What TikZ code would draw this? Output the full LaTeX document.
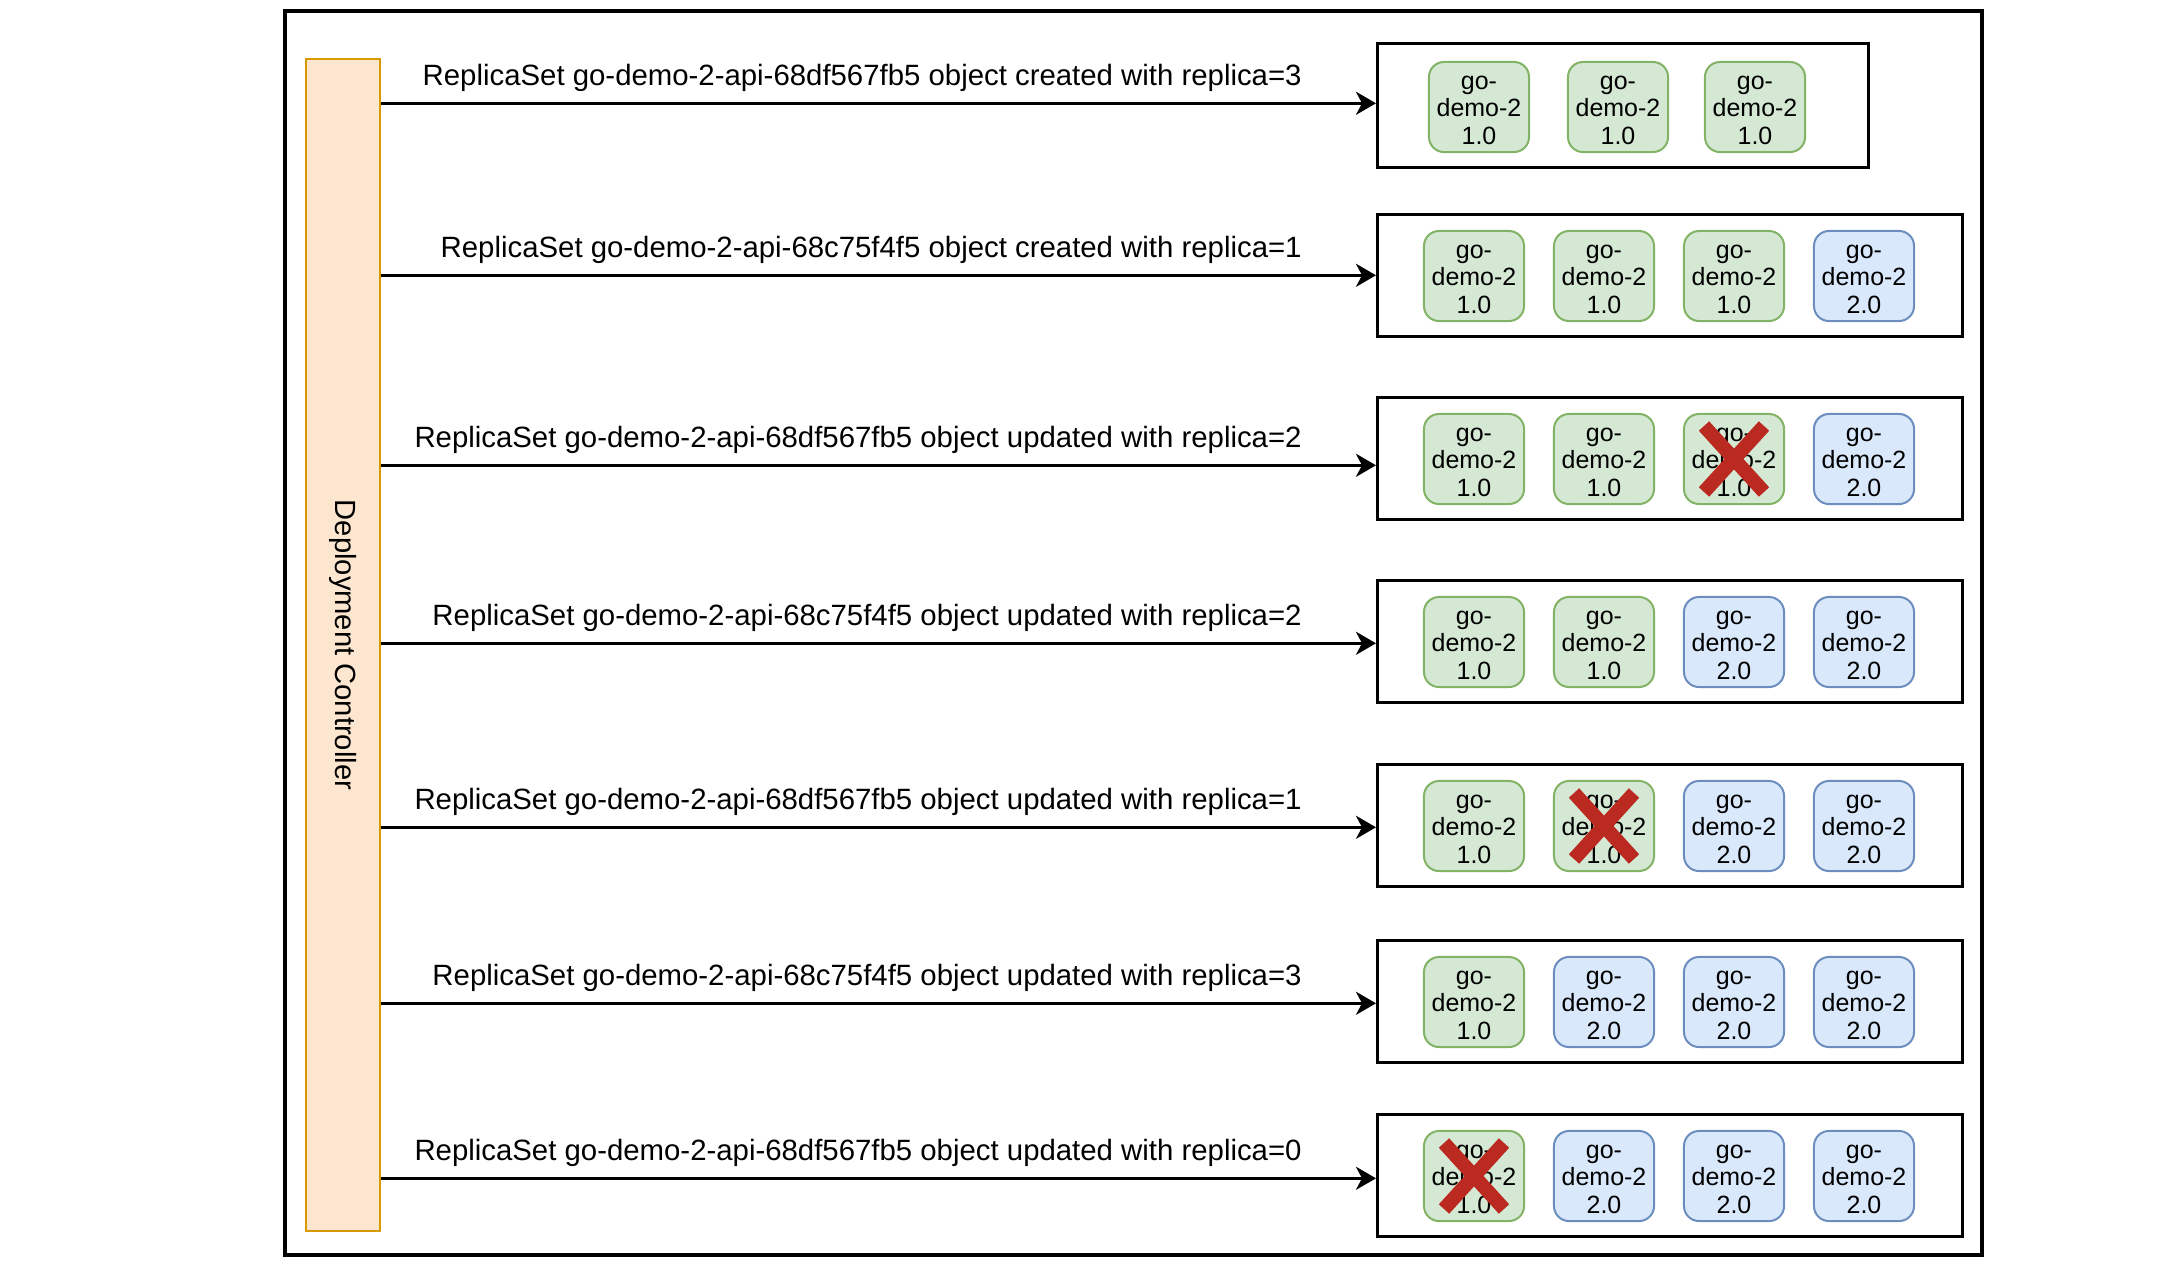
\documentclass[tikz,border=0pt]{standalone}
\usepackage{fontspec}
\setmainfont{Liberation Sans}
\usetikzlibrary{arrows.meta}
\usetikzlibrary{positioning,calc}

\definecolor{oldfill}{HTML}{D5E8D4}
\definecolor{oldline}{HTML}{82B366}
\definecolor{newfill}{HTML}{DAE8FC}
\definecolor{newline}{HTML}{6C8EBF}
\definecolor{ctrlfill}{HTML}{FCE6CF}
\definecolor{ctrlline}{HTML}{D79B00}
\definecolor{killred}{HTML}{BA2A20}

\tikzset{
  pod/.style={draw, rounded corners=0.15cm, line width=0.02cm, minimum width=1cm, minimum height=0.9cm,
    inner sep=0pt, align=center, font=\fontsize{7.1}{7.9}\selectfont},
  old/.style={pod, fill=oldfill, draw=oldline},
  new/.style={pod, fill=newfill, draw=newline},
  rsbox/.style={draw, line width=0.025cm, inner sep=0pt, anchor=north west, minimum height=1.22cm},
  msg/.style={anchor=base east, xshift=-0.73cm, yshift=0.18cm, inner sep=0pt, font=\fontsize{8.35}{10}\selectfont},
  kill/.style={draw=killred, line width=0.14cm},
}

\begin{document}
\begin{tikzpicture}[x=0.01cm, y=-0.01cm, >={Stealth[length=0.2cm,width=0.23cm,inset=0.06cm]}]
			\useasboundingbox (0,0) rectangle (2184,1266);
			\draw[line width=0.04cm] (285,11) rectangle (1982,1255);
			\node[draw=ctrlline, fill=ctrlfill, line width=0.02cm, rotate=-90, minimum width=11.72cm, minimum height=0.74cm,
				font=\fontsize{8.3}{10}\selectfont] (ctrl) at (343,645) {Deployment Controller};
			
			% replica sets
			\node[rsbox, minimum width=4.91cm, minimum height=1.24cm] (rs1) at (1376,42) {};
			\foreach \t [count=\r from 2] in {213,396,579,763,939,1113}
				\node[rsbox, minimum width=5.85cm] (rs\r) at (1376,\t) {};
			
			% pods
			\foreach \x [count=\i] in {1479,1618,1755}
				\node[old] (p1\i) at (\x,107) {\rule{0pt}{0.2cm}go-\\demo-2\\1.0};
			\foreach \t/\pods [count=\r from 2] in {
					213/{old/1.0,old/1.0,old/1.0,new/2.0},
					396/{old/1.0,old/1.0,old/1.0,new/2.0},
					579/{old/1.0,old/1.0,new/2.0,new/2.0},
					763/{old/1.0,old/1.0,new/2.0,new/2.0},
					939/{old/1.0,new/2.0,new/2.0,new/2.0},
					1113/{old/1.0,new/2.0,new/2.0,new/2.0}}{
				\foreach \k/\v [count=\i] in \pods
					\node[\k] (p\r\i) at ({1344+130*\i},\t+63) {\rule{0pt}{0.2cm}go-\\demo-2\\\v};
			}
			
			% removed pods
			\foreach \p in {p33,p52,p71}{
				\draw[kill] ($(\p)+(-30,-33)$) -- ($(\p)+(30,33)$);
				\draw[kill] ($(\p)+(30,-33)$) -- ($(\p)+(-30,33)$);
			}
			
			% events
			\foreach \r/\dy/\txt in {
					1/-2/68df567fb5 object created with replica=3,
					2/0/68c75f4f5 object created with replica=1,
					3/7/68df567fb5 object updated with replica=2,
					4/2/68c75f4f5 object updated with replica=2,
					5/2/68df567fb5 object updated with replica=1,
					6/2/68c75f4f5 object updated with replica=3,
					7/3/68df567fb5 object updated with replica=0}
				\draw[->, line width=0.025cm] (ctrl.north |- {$(rs\r.west)+(0,\dy)$}) -- ($(rs\r.west)+(0,\dy)$)
					node[msg, pos=1] {ReplicaSet go-demo-2-api-\txt};
		\end{tikzpicture}
\end{document}
